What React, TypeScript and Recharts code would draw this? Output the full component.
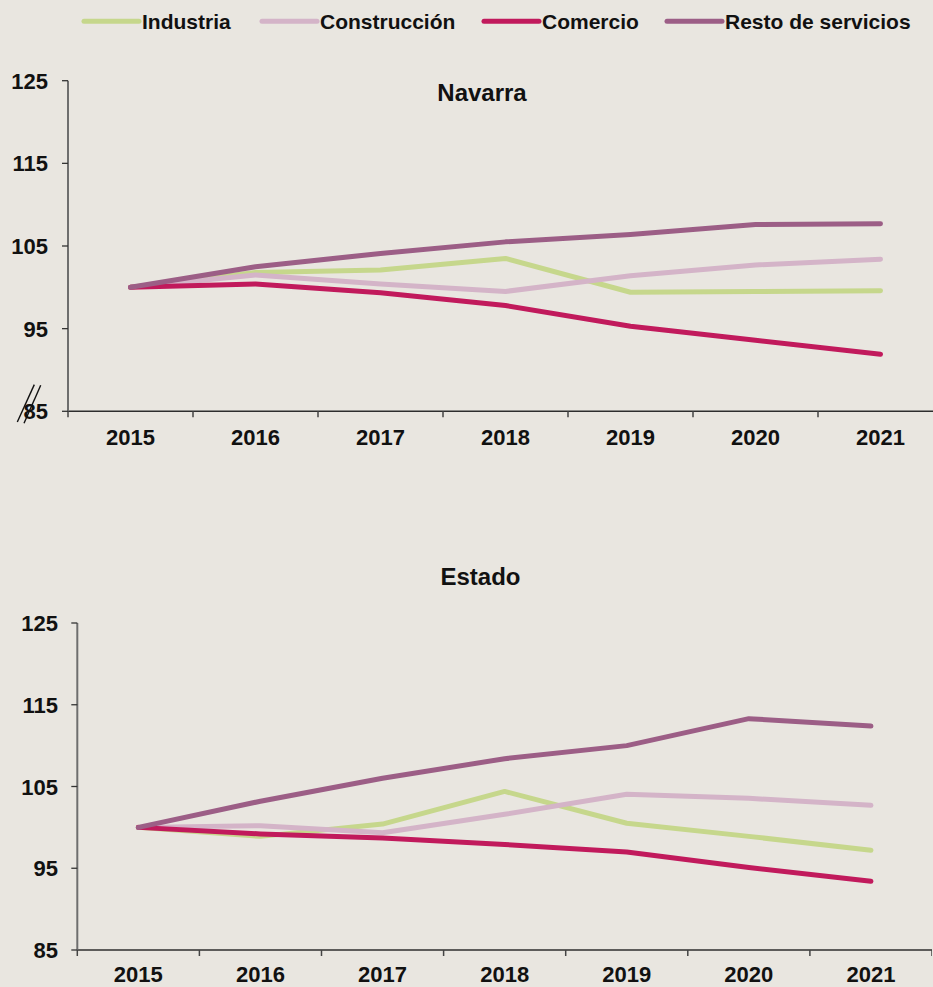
import React from 'react';
import { LineChart, Line, XAxis, YAxis } from 'recharts';

const years = ['2015', '2016', '2017', '2018', '2019', '2020', '2021'];
const yTicks = [85, 95, 105, 115, 125];

const seriesNames = ['Industria', 'Construcción', 'Comercio', 'Resto de servicios'];
const seriesKeys = ['industria', 'construccion', 'comercio', 'resto'];
const seriesColors = ['#c6d78c', '#d4b4c8', '#c11a5c', '#9c5e86'];

const navIndustria = [100, 101.8, 102.1, 103.5, 99.4, 99.5, 99.6];
const navConstruccion = [100, 101.5, 100.4, 99.5, 101.4, 102.7, 103.4];
const navComercio = [100, 100.4, 99.35, 97.8, 95.3, 93.6, 91.9];
const navResto = [100, 102.5, 104.1, 105.5, 106.4, 107.6, 107.7];

const estIndustria = [100, 98.9, 100.4, 104.4, 100.5, 98.9, 97.2];
const estConstruccion = [100, 100.2, 99.35, 101.6, 104.05, 103.55, 102.7];
const estComercio = [100, 99.2, 98.7, 97.9, 97.0, 95.1, 93.4];
const estResto = [100, 103.2, 106.0, 108.4, 110.0, 113.3, 112.4];

const FONT = '"Liberation Sans", Arial, sans-serif';
const BG = '#e9e6e0';

function makeData(a: number[], b: number[], c: number[], d: number[]) {
  return years.map((y, i) => ({
    year: y,
    industria: a[i],
    construccion: b[i],
    comercio: c[i],
    resto: d[i],
  }));
}

const navData = makeData(navIndustria, navConstruccion, navComercio, navResto);
const estData = makeData(estIndustria, estConstruccion, estComercio, estResto);

const makeXTick = (band: number, labelOffset: number) => (props: any) => {
  const { x, y, payload, index } = props;
  return (
    <g>
      <line x1={x - band / 2} x2={x - band / 2} y1={y} y2={y + 6} stroke="#444" strokeWidth={1.5} />
      {index === years.length - 1 && (
        <line x1={x + band / 2} x2={x + band / 2} y1={y} y2={y + 6} stroke="#444" strokeWidth={1.5} />
      )}
      <text x={x} y={y + labelOffset} textAnchor="middle" fontFamily={FONT} fontWeight="bold" fontSize={22} fill="#111">
        {payload.value}
      </text>
    </g>
  );
};

const makeYTick = (gap: number, withBreak: boolean) => (props: any) => {
  const { x, y, payload } = props;
  return (
    <g>
      <line x1={x - 6} x2={x} y1={y} y2={y} stroke="#333" strokeWidth={1.3} />
      <text x={x - gap} y={y + 8} textAnchor="end" fontFamily={FONT} fontWeight="bold" fontSize={22} fill="#111">
        {payload.value}
      </text>
      {withBreak && payload.value === 85 && (
        <g stroke="#111" strokeWidth={1.4}>
          <line x1={x - 33.7} y1={y - 26.7} x2={x - 50.7} y2={y + 10.7} />
          <line x1={x - 27.3} y1={y - 26} x2={x - 44} y2={y + 12} />
        </g>
      )}
    </g>
  );
};

type PanelProps = {
  top: number;
  width: number;
  height: number;
  marginTop: number;
  marginBottom: number;
  yWidth: number;
  data: any[];
  gap: number;
  withBreak: boolean;
  labelOffset: number;
};

function Panel({ top, width, height, marginTop, marginBottom, yWidth, data, gap, withBreak, labelOffset }: PanelProps) {
  const band = (width - yWidth) / years.length;
  return (
    <div style={{ position: 'absolute', left: 0, top }}>
      <LineChart
        width={width}
        height={height}
        data={data}
        margin={{ top: marginTop, right: 0, bottom: marginBottom, left: 0 }}
      >
        <XAxis
          dataKey="year"
          height={30}
          padding={{ left: band / 2, right: band / 2 }}
          tickSize={0}
          tickMargin={0}
          tickLine={false}
          interval={0}
          axisLine={{ stroke: '#2e2e2e', strokeWidth: 1.4 }}
          tick={makeXTick(band, labelOffset)}
        />
        <YAxis
          type="number"
          width={yWidth}
          domain={[85, 125]}
          ticks={yTicks}
          allowDataOverflow
          interval={0}
          tickSize={0}
          tickMargin={0}
          tickLine={false}
          axisLine={{ stroke: '#6e6e6e', strokeWidth: 2 }}
          tick={makeYTick(gap, withBreak)}
        />
        {seriesKeys.map((k, i) => (
          <Line
            key={k}
            dataKey={k}
            name={seriesNames[i]}
            stroke={seriesColors[i]}
            strokeWidth={5}
            strokeLinecap="round"
            strokeLinejoin="round"
            dot={false}
            activeDot={false}
            isAnimationActive={false}
          />
        ))}
      </LineChart>
    </div>
  );
}

const legendX = [84, 262, 484, 667];

export default function App() {
  return (
    <div
      style={{
        position: 'absolute',
        left: 0,
        top: 0,
        width: 933,
        height: 987,
        overflow: 'hidden',
        background: BG,
      }}
    >
      <Panel
        top={0}
        width={943}
        height={461.3}
        marginTop={80.7}
        marginBottom={20}
        yWidth={68}
        data={navData}
        gap={20}
        withBreak
        labelOffset={34}
      />
      <Panel
        top={540}
        width={932}
        height={447}
        marginTop={83}
        marginBottom={7}
        yWidth={77.3}
        data={estData}
        gap={19.3}
        withBreak={false}
        labelOffset={32}
      />
      <svg
        width={933}
        height={987}
        style={{ position: 'absolute', left: 0, top: 0, pointerEvents: 'none' }}
      >
        {seriesNames.map((n, i) => (
          <g key={n}>
            <line
              x1={legendX[i]}
              x2={legendX[i] + 55}
              y1={21.3}
              y2={21.3}
              stroke={seriesColors[i]}
              strokeWidth={5}
              strokeLinecap="round"
            />
            <text x={legendX[i] + 58} y={28.7} fontFamily={FONT} fontWeight="bold" fontSize={21} fill="#111">
              {n}
            </text>
          </g>
        ))}
        <text x={482} y={101} textAnchor="middle" fontFamily={FONT} fontWeight="bold" fontSize={24} fill="#111">
          Navarra
        </text>
        <text x={480.5} y={585} textAnchor="middle" fontFamily={FONT} fontWeight="bold" fontSize={24} fill="#111">
          Estado
        </text>
      </svg>
    </div>
  );
}
